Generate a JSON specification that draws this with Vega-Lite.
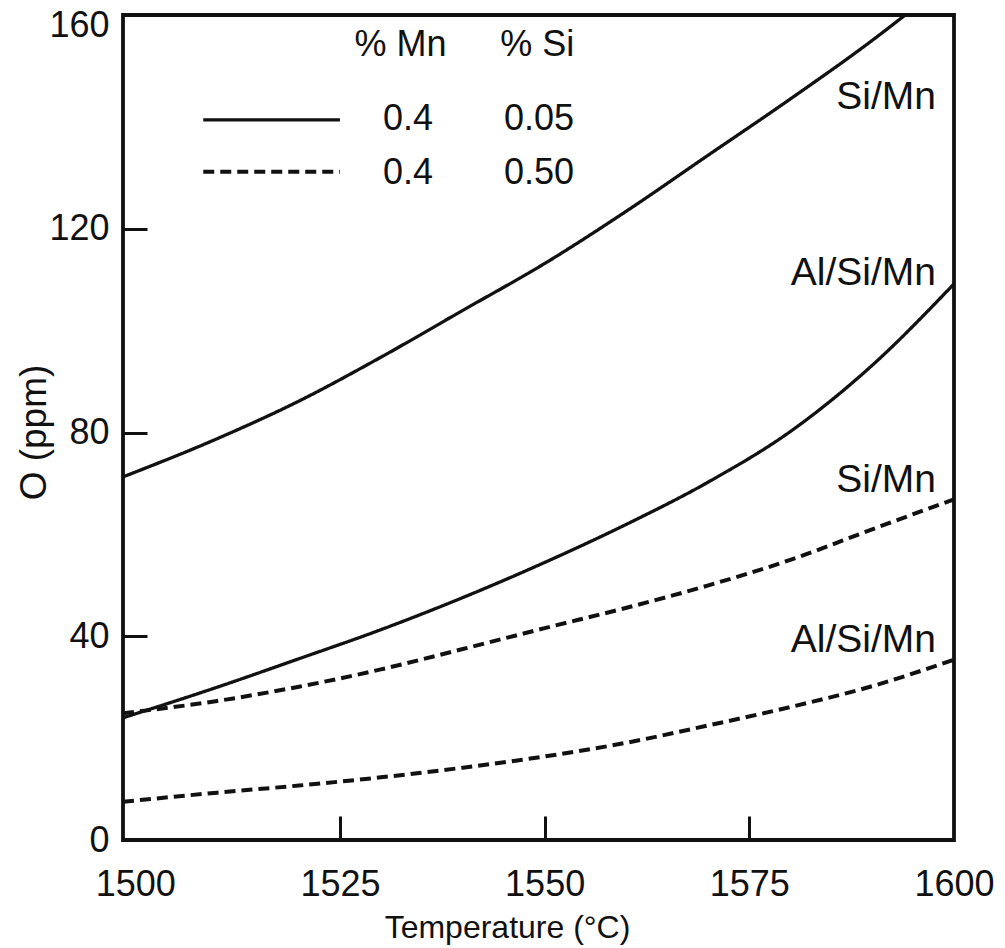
{
  "$schema": "https://vega.github.io/schema/vega-lite/v6.json",
  "width": 831,
  "height": 825,
  "autosize": "none",
  "padding": {"left": 123, "top": 15, "right": 51, "bottom": 108},
  "background": "white",
  "config": {
    "font": "Liberation Sans",
    "view": {"stroke": "#111111", "strokeWidth": 3.8},
    "axis": {
      "grid": false,
      "domain": false,
      "ticks": true,
      "tickColor": "#111111",
      "tickWidth": 3,
      "tickSize": -24,
      "labelColor": "#111111",
      "labelFont": "Liberation Sans",
      "labelFontSize": 36,
      "labelFontWeight": "normal",
      "titleColor": "#111111",
      "titleFont": "Liberation Sans",
      "titleFontWeight": "normal",
      "labelFlush": false,
      "labelOverlap": false
    }
  },
  "datasets": {
    "curves": [
      {"curve": "SiMn_005", "style": "solid", "T": 1498.5, "O": 71.3},
      {"curve": "SiMn_005", "style": "solid", "T": 1510, "O": 78.8},
      {"curve": "SiMn_005", "style": "solid", "T": 1520, "O": 86.2},
      {"curve": "SiMn_005", "style": "solid", "T": 1530, "O": 94.8},
      {"curve": "SiMn_005", "style": "solid", "T": 1540, "O": 104.0},
      {"curve": "SiMn_005", "style": "solid", "T": 1550, "O": 113.2},
      {"curve": "SiMn_005", "style": "solid", "T": 1560, "O": 123.5},
      {"curve": "SiMn_005", "style": "solid", "T": 1570, "O": 134.5},
      {"curve": "SiMn_005", "style": "solid", "T": 1580, "O": 145.5},
      {"curve": "SiMn_005", "style": "solid", "T": 1590, "O": 157.0},
      {"curve": "SiMn_005", "style": "solid", "T": 1595, "O": 163.2},
      {"curve": "AlSiMn_005", "style": "solid", "T": 1498.5, "O": 24.0},
      {"curve": "AlSiMn_005", "style": "solid", "T": 1510, "O": 30.0},
      {"curve": "AlSiMn_005", "style": "solid", "T": 1520, "O": 35.6},
      {"curve": "AlSiMn_005", "style": "solid", "T": 1530, "O": 41.3},
      {"curve": "AlSiMn_005", "style": "solid", "T": 1540, "O": 47.6},
      {"curve": "AlSiMn_005", "style": "solid", "T": 1550, "O": 54.5},
      {"curve": "AlSiMn_005", "style": "solid", "T": 1560, "O": 62.0},
      {"curve": "AlSiMn_005", "style": "solid", "T": 1570, "O": 70.3},
      {"curve": "AlSiMn_005", "style": "solid", "T": 1580, "O": 80.2},
      {"curve": "AlSiMn_005", "style": "solid", "T": 1590, "O": 93.2},
      {"curve": "AlSiMn_005", "style": "solid", "T": 1600, "O": 109.2},
      {"curve": "SiMn_050", "style": "dashed", "T": 1498.5, "O": 24.9},
      {"curve": "SiMn_050", "style": "dashed", "T": 1510, "O": 27.3},
      {"curve": "SiMn_050", "style": "dashed", "T": 1520, "O": 30.1},
      {"curve": "SiMn_050", "style": "dashed", "T": 1530, "O": 33.5},
      {"curve": "SiMn_050", "style": "dashed", "T": 1540, "O": 37.5},
      {"curve": "SiMn_050", "style": "dashed", "T": 1550, "O": 41.6},
      {"curve": "SiMn_050", "style": "dashed", "T": 1560, "O": 45.6},
      {"curve": "SiMn_050", "style": "dashed", "T": 1570, "O": 50.0},
      {"curve": "SiMn_050", "style": "dashed", "T": 1580, "O": 55.0},
      {"curve": "SiMn_050", "style": "dashed", "T": 1590, "O": 61.0},
      {"curve": "SiMn_050", "style": "dashed", "T": 1600, "O": 66.9},
      {"curve": "AlSiMn_050", "style": "dashed", "T": 1498.5, "O": 7.5},
      {"curve": "AlSiMn_050", "style": "dashed", "T": 1510, "O": 9.3},
      {"curve": "AlSiMn_050", "style": "dashed", "T": 1520, "O": 10.7},
      {"curve": "AlSiMn_050", "style": "dashed", "T": 1530, "O": 12.3},
      {"curve": "AlSiMn_050", "style": "dashed", "T": 1540, "O": 14.2},
      {"curve": "AlSiMn_050", "style": "dashed", "T": 1550, "O": 16.4},
      {"curve": "AlSiMn_050", "style": "dashed", "T": 1560, "O": 19.1},
      {"curve": "AlSiMn_050", "style": "dashed", "T": 1570, "O": 22.5},
      {"curve": "AlSiMn_050", "style": "dashed", "T": 1580, "O": 26.1},
      {"curve": "AlSiMn_050", "style": "dashed", "T": 1590, "O": 30.2},
      {"curve": "AlSiMn_050", "style": "dashed", "T": 1600, "O": 35.4}
    ],
    "legendLines": [
      {"style": "solid", "T": 1508.3, "T2": 1525.0, "O": 141.4},
      {"style": "dashed", "T": 1508.3, "T2": 1525.0, "O": 131.2}
    ],
    "legendText": [
      {"text": "% Mn", "T": 1532.4, "O": 156.1},
      {"text": "% Si", "T": 1549.1, "O": 156.1},
      {"text": "0.4", "T": 1533.3, "O": 141.6},
      {"text": "0.05", "T": 1549.3, "O": 141.6},
      {"text": "0.4", "T": 1533.3, "O": 131.0},
      {"text": "0.50", "T": 1549.3, "O": 131.0}
    ],
    "curveLabels": [
      {"text": "Si/Mn", "T": 1597.8, "O": 145.9},
      {"text": "Al/Si/Mn", "T": 1597.8, "O": 111.3},
      {"text": "Si/Mn", "T": 1597.8, "O": 70.7},
      {"text": "Al/Si/Mn", "T": 1597.8, "O": 39.3}
    ]
  },
  "layer": [
    {
      "data": {"name": "curves"},
      "mark": {"type": "line", "interpolate": "monotone", "color": "#111111", "clip": true},
      "encoding": {
        "x": {
          "field": "T", "type": "quantitative",
          "scale": {"domain": [1498.5, 1600], "nice": false, "zero": false},
          "axis": {
            "values": [1500, 1525, 1550, 1575, 1600],
            "format": "d",
            "labelPadding": 51,
            "labelBaseline": "top",
            "tickOpacity": {"condition": {"test": "datum.value == 1500 || datum.value == 1600", "value": 0}, "value": 1},
            "title": "Temperature (\u00b0C)",
            "titleFontSize": 32,
            "titleAnchor": "start",
            "titleAlign": "center",
            "titleX": 384,
            "titleY": 97,
            "titleBaseline": "alphabetic"
          }
        },
        "y": {
          "field": "O", "type": "quantitative",
          "scale": {"domain": [0, 162], "nice": false, "zero": true},
          "axis": {
            "values": [0, 40, 80, 120, 160],
            "format": "d",
            "labelPadding": 38,
            "tickOpacity": {"condition": {"test": "datum.value == 0 || datum.value == 160", "value": 0}, "value": 1},
            "title": "O (ppm)",
            "titleFontSize": 37,
            "titleAngle": -90,
            "titleAlign": "center",
            "titleX": -78,
            "titleY": 417,
            "titleBaseline": "alphabetic"
          }
        },
        "detail": {"field": "curve"},
        "strokeDash": {
          "field": "style", "type": "nominal",
          "scale": {"domain": ["solid", "dashed"], "range": [[1, 0], [11, 6]]},
          "legend": null
        },
        "strokeWidth": {
          "field": "style", "type": "nominal",
          "scale": {"domain": ["solid", "dashed"], "range": [3.3, 4]},
          "legend": null
        }
      }
    },
    {
      "data": {"name": "legendLines"},
      "mark": {"type": "rule", "color": "#111111"},
      "encoding": {
        "x": {"field": "T", "type": "quantitative"},
        "x2": {"field": "T2"},
        "y": {"field": "O", "type": "quantitative"},
        "strokeDash": {"field": "style", "type": "nominal", "legend": null},
        "strokeWidth": {"field": "style", "type": "nominal", "legend": null}
      }
    },
    {
      "data": {"name": "legendText"},
      "mark": {"type": "text", "align": "center", "baseline": "middle", "fontSize": 36, "font": "Liberation Sans", "color": "#111111"},
      "encoding": {
        "x": {"field": "T", "type": "quantitative"},
        "y": {"field": "O", "type": "quantitative"},
        "text": {"field": "text"}
      }
    },
    {
      "data": {"name": "curveLabels"},
      "mark": {"type": "text", "align": "right", "baseline": "middle", "fontSize": 39, "font": "Liberation Sans", "color": "#111111"},
      "encoding": {
        "x": {"field": "T", "type": "quantitative"},
        "y": {"field": "O", "type": "quantitative"},
        "text": {"field": "text"}
      }
    }
  ]
}
